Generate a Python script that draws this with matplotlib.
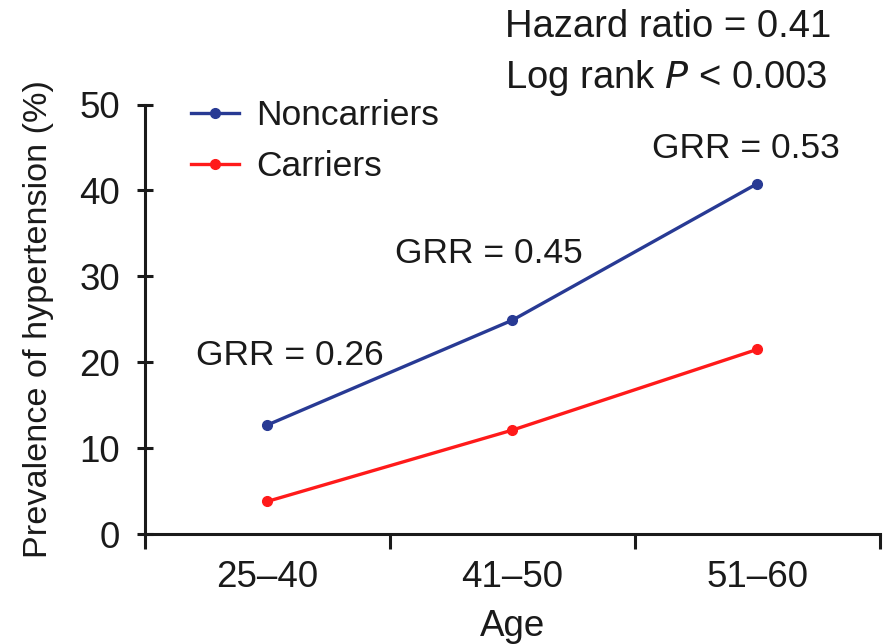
import matplotlib.pyplot as plt
import numpy as np

plt.rcParams["font.family"] = ["Liberation Sans", "DejaVu Sans"]

ages = ["25\u201340", "41\u201350", "51\u201360"]
noncarriers = [12.7, 24.9, 40.8]
carriers = [3.8, 12.1, 21.5]
grr_labels = ["GRR = 0.26", "GRR = 0.45", "GRR = 0.53"]
grr_pos = [(-0.29, 20.8), (0.52, 32.7), (1.57, 44.9)]

blue = "#283a94"
red = "#ff1a1a"
ink = "#1a1a1a"
fs_tick = 26.5
fs_text = 25.5

fig = plt.figure(figsize=(8.95, 6.44), dpi=100)
ax = fig.add_axes([0.162, 0.1708, 0.8212, 0.6669])

x = np.arange(len(ages))
ax.plot(x, noncarriers, color=blue, lw=2.4, marker="o", ms=7, label="Noncarriers")
ax.plot(x, carriers, color=red, lw=2.4, marker="o", ms=7, label="Carriers")

ax.set_xlim(-0.5, 2.5)
ax.set_ylim(0, 50)

for s in ["top", "right"]:
    ax.spines[s].set_visible(False)
for s in ["left", "bottom"]:
    ax.spines[s].set_linewidth(2.2)
    ax.spines[s].set_color(ink)

ax.set_yticks(np.arange(0, 51, 10))
ax.tick_params(axis="y", direction="inout", length=12, width=2.2, pad=12,
               labelsize=fs_tick, colors=ink)

# boundary ticks without labels, category labels on minor ticks
ax.set_xticks([-0.5, 0.5, 1.5, 2.5])
ax.set_xticklabels([])
ax.set_xticks(x, minor=True)
ax.set_xticklabels(ages, minor=True)
ax.tick_params(axis="x", which="major", direction="out", length=11, width=2.2, colors=ink)
ax.tick_params(axis="x", which="minor", length=0, pad=19, labelsize=fs_tick, colors=ink)

ax.set_xlabel("Age", fontsize=fs_tick, color=ink, labelpad=10)
ax.set_ylabel("Prevalence of hypertension (%)", fontsize=24.7, color=ink, labelpad=18)

for lab, (gx, gy) in zip(grr_labels, grr_pos):
    ax.text(gx, gy, lab, fontsize=fs_text, color=ink, ha="left", va="center")

leg = ax.legend(loc="upper left", bbox_to_anchor=(0.043, 1.045), frameon=False,
                fontsize=fs_text, handlelength=1.35, handletextpad=0.5,
                labelspacing=0.5, borderaxespad=0)
for t in leg.get_texts():
    t.set_color(ink)

fig.text(0.564, 0.958, "Hazard ratio = 0.41", fontsize=27.5, color=ink,
         ha="left", va="center")
fig.text(0.564, 0.879, "Log rank $\\it{P}$ < 0.003", fontsize=27.5, color=ink,
         ha="left", va="center")

fig.savefig("out.png", dpi=100)
